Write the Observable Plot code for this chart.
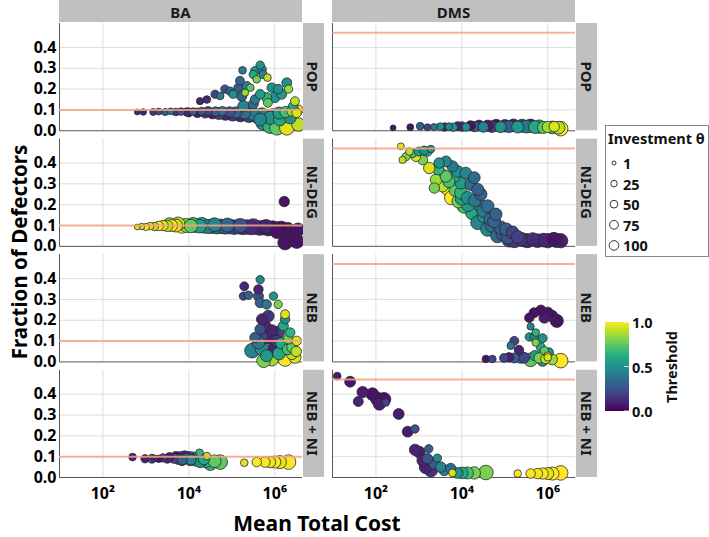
<!DOCTYPE html>
<html><head><meta charset="utf-8">
<script src="https://cdn.jsdelivr.net/npm/d3@7"></script>
<script src="https://cdn.jsdelivr.net/npm/@observablehq/plot@0.6"></script>
<style>
body{margin:0;background:#fff;}
#wrap{position:relative;width:709px;height:537px;overflow:hidden;font-family:"Noto Sans",sans-serif;}
#wrap svg{position:absolute;left:0;top:0;}
</style></head><body><div id="wrap"></div>
<script>
// Networks (columns) and strategies (rows)
const networks = ["BA", "DMS"];
const strategies = ["POP", "NI-DEG", "NEB", "NEB + NI"];
// Reference fraction of defectors per network (orange line)
const refLevels = [0.1, 0.47];
// x tick values are log10(Mean Total Cost)
const xTicks = [2, 4, 6];
const xTickLabels = ["10²", "10⁴", "10⁶"];
const yTicks = [0, 0.1, 0.2, 0.3, 0.4];
const sizeLegend = [1, 25, 50, 75, 100];
const colorLegend = [0, 0.5, 1];

// Each point: [log10(Mean Total Cost), Fraction of Defectors, Threshold, Investment θ]
const BA_POP = [
[2.8,0.09,0.12,5],[2.94,0.09,0.1,8],[3.17,0.09,0.15,10],[3.3,0.092,0.2,10],[3.45,0.09,0.3,12],[3.58,0.093,0.4,10],[3.7,0.09,0.15,15],[3.82,0.092,0.25,15],[3.95,0.09,0.1,20],
[4.0,0.088,0.08,25],[4.1,0.092,0.3,15],[4.2,0.086,0.05,30],[4.3,0.093,0.25,20],[4.38,0.085,0.12,35],[4.45,0.095,0.2,25],[4.55,0.083,0.08,45],[4.62,0.092,0.3,30],[4.7,0.082,0.18,55],[4.78,0.094,0.35,30],[4.85,0.08,0.1,65],[4.95,0.09,0.25,40],[5.02,0.078,0.15,75],[5.1,0.088,0.3,50],[5.2,0.076,0.1,85],[5.3,0.085,0.35,60],[5.4,0.074,0.2,95],[5.5,0.08,0.4,70],[5.6,0.07,0.25,100],[5.7,0.078,0.45,80],[5.8,0.068,0.3,100],[5.95,0.072,0.5,90],
[6.1,0.085,0.55,60],[6.25,0.09,0.7,50],[6.4,0.095,0.85,40],[6.55,0.1,0.95,35],
[4.26,0.142,0.1,12],[4.42,0.15,0.12,15],[4.61,0.175,0.2,18],[4.73,0.167,0.4,15],[4.84,0.2,0.25,20],[4.96,0.19,0.3,20],[5.03,0.175,0.5,18],[5.15,0.207,0.3,25],[5.19,0.24,0.32,25],[5.25,0.29,0.42,15],[5.23,0.167,0.3,40],[5.31,0.183,0.85,12],[5.35,0.215,0.45,25],[5.43,0.207,0.75,15],[5.27,0.118,0.45,50],[5.5,0.128,0.35,35],[5.5,0.27,0.6,20],[5.54,0.287,0.55,25],[5.58,0.247,0.8,15],[5.66,0.315,0.5,20],[5.7,0.295,0.45,25],[5.73,0.27,0.45,20],[5.83,0.255,0.9,15],[5.54,0.15,0.4,30],[5.66,0.175,0.55,30],[5.81,0.16,0.65,35],[5.84,0.134,0.75,25],[5.93,0.207,0.5,30],[6.0,0.16,0.5,40],[6.08,0.2,0.5,30],[6.16,0.175,0.55,35],[6.28,0.23,0.5,35],[6.32,0.2,0.85,20],[6.43,0.118,0.6,30],[6.47,0.142,0.9,25],[6.51,0.086,0.95,30],
[5.66,0.054,0.45,70],[5.73,0.038,0.5,100],[5.89,0.062,0.5,80],[5.89,0.022,0.65,100],[6.05,0.014,0.75,100],[6.12,0.054,0.6,70],[6.28,0.014,0.95,100],[6.36,0.062,0.5,60],[6.55,0.03,0.9,80]
];
const DMS_POP = [
[2.4,0.014,0.05,5],[2.8,0.017,0.05,10],[3.03,0.022,0.3,15],[3.2,0.017,0.2,10],[3.35,0.018,0.4,10],[3.5,0.02,0.5,15],[3.6,0.018,0.1,20],[3.7,0.02,0.45,15],[3.8,0.017,0.55,20],[3.9,0.022,0.1,25],[4.0,0.02,0.2,30],[4.1,0.018,0.5,20],[4.2,0.024,0.05,35],[4.3,0.02,0.3,40],[4.4,0.025,0.1,45],[4.5,0.018,0.45,40],[4.6,0.024,0.08,50],[4.7,0.02,0.2,55],[4.8,0.026,0.05,60],[4.9,0.018,0.5,50],[5.0,0.024,0.1,65],[5.1,0.02,0.3,60],[5.2,0.026,0.08,70],[5.3,0.018,0.55,60],[5.4,0.024,0.15,75],[5.5,0.02,0.4,70],[5.6,0.024,0.1,80],[5.7,0.018,0.6,70],[5.8,0.02,0.5,80],[5.9,0.016,0.75,60],[6.0,0.018,0.85,50],[6.1,0.016,0.7,70],[6.15,0.02,0.95,40],[6.25,0.015,0.9,70],[6.3,0.01,1.0,100]
];
const BA_NIDEG = [
[2.8,0.093,0.95,5],[2.9,0.095,0.9,8],[3.0,0.093,1.0,12],[3.1,0.097,0.95,15],[3.2,0.095,0.9,20],[3.3,0.098,1.0,30],[3.4,0.1,0.95,40],[3.5,0.098,0.9,50],[3.6,0.1,0.98,60],[3.7,0.1,0.95,75],
[3.55,0.107,0.85,70],[3.75,0.108,0.9,85],[4.1,0.106,0.7,85],[4.3,0.105,0.6,90],[4.6,0.104,0.45,85],[4.9,0.102,0.32,90],[5.2,0.1,0.25,90],[5.5,0.098,0.18,95],[5.8,0.095,0.1,90],
[3.84,0.098,1.0,100],[3.95,0.1,0.85,90],[4.05,0.098,0.75,80],[4.15,0.1,0.65,90],[4.25,0.097,0.55,85],[4.35,0.098,0.5,95],[4.45,0.095,0.45,90],[4.55,0.097,0.4,100],[4.65,0.094,0.35,95],[4.75,0.096,0.3,100],[4.85,0.093,0.28,95],[4.95,0.095,0.25,100],[5.05,0.092,0.22,100],[5.15,0.094,0.2,95],[5.25,0.091,0.18,100],[5.35,0.093,0.15,100],[5.45,0.09,0.12,95],[5.55,0.092,0.1,100],[5.65,0.088,0.1,100],[5.75,0.09,0.08,100],[5.85,0.085,0.06,100],[5.95,0.088,0.05,95],[6.05,0.083,0.05,100],[6.15,0.086,0.04,100],[6.3,0.08,0.03,100],
[6.22,0.215,0.05,40],[6.05,0.07,0.05,80],[6.36,0.07,0.05,90],[6.54,0.08,0.05,80],[6.24,0.018,0.05,100],[6.51,0.025,0.05,100]
];
const DMS_NIDEG = [
[2.58,0.48,0.95,10],[2.62,0.415,0.9,12],[2.7,0.43,0.8,20],[2.78,0.455,0.9,15],[2.85,0.447,0.7,25],[2.93,0.43,0.95,30],[3.0,0.455,0.55,25],[3.09,0.415,0.8,35],[3.12,0.46,0.5,25],[3.2,0.455,0.6,30],[3.28,0.467,0.5,15],
[3.47,0.4,0.5,40],[3.63,0.408,0.45,45],[3.78,0.384,0.4,50],[3.9,0.36,0.5,55],[4.09,0.352,0.45,55],[4.29,0.33,0.35,55],[4.21,0.297,0.35,60],[4.37,0.273,0.3,60],[4.44,0.25,0.3,65],[3.82,0.336,0.6,60],[3.98,0.305,0.55,65],[3.45,0.37,0.65,50],
[3.24,0.376,0.95,50],[3.4,0.32,0.85,55],[3.36,0.28,0.8,40],[3.52,0.344,1.0,75],[3.55,0.29,0.9,60],[3.63,0.336,0.75,55],[3.7,0.31,0.7,60],[3.67,0.28,1.0,100],[3.76,0.233,1.0,90],[3.85,0.27,0.75,70],[3.93,0.217,0.8,85],[3.98,0.257,0.65,70],
[4.0,0.23,0.6,80],[4.05,0.193,0.7,90],[4.13,0.233,0.5,70],[4.15,0.2,0.55,85],[4.25,0.162,0.6,95],[4.3,0.22,0.4,70],[4.37,0.114,0.45,90],[4.44,0.193,0.5,75],[4.5,0.17,0.4,75],[4.52,0.146,0.5,85],[4.6,0.193,0.35,70],[4.6,0.082,0.45,90],[4.67,0.13,0.35,75],[4.7,0.1,0.35,85],[4.75,0.12,0.3,75],[4.79,0.154,0.3,65],[4.83,0.05,0.35,85],[4.9,0.09,0.3,80],[4.95,0.06,0.28,85],
[5.03,0.082,0.3,70],[5.07,0.043,0.25,80],[5.1,0.03,0.2,90],[5.18,0.067,0.2,70],[5.22,0.027,0.15,90],[5.3,0.045,0.18,70],[5.37,0.035,0.15,80],[5.45,0.03,0.12,85],[5.53,0.027,0.1,90],[5.65,0.035,0.12,70],[5.76,0.027,0.1,85],[5.9,0.03,0.1,85],[6.0,0.027,0.08,95],[6.14,0.035,0.05,80],[6.2,0.028,0.08,90],[6.3,0.027,0.1,95]
];
const BA_NEB = [
[5.66,0.395,0.45,20],[5.29,0.363,0.1,25],[5.27,0.316,0.2,20],[5.39,0.32,0.3,20],[5.62,0.348,0.1,30],[5.62,0.316,0.25,35],[5.66,0.284,0.3,35],[5.81,0.276,0.4,30],[5.97,0.316,0.5,20],[6.08,0.276,0.8,20],[6.24,0.229,0.95,25],
[5.85,0.22,0.15,55],[5.7,0.205,0.1,45],[5.77,0.173,0.1,60],[5.66,0.157,0.25,40],[5.54,0.117,0.3,40],[5.93,0.149,0.1,65],[6.08,0.141,0.2,70],[6.2,0.173,0.6,35],[6.24,0.205,0.5,30],[6.36,0.141,0.65,30],[6.32,0.11,0.8,35],[6.51,0.101,0.95,30],
[5.7,0.125,0.2,70],[5.85,0.117,0.1,75],[5.62,0.093,0.4,70],[6.05,0.1,0.15,60],[6.15,0.09,0.6,50],[6.3,0.06,0.7,45],[6.4,0.07,0.75,40],
[5.47,0.054,0.45,100],[5.7,0.062,0.5,80],[5.81,0.03,0.55,60],[6.0,0.07,0.1,70],[6.1,0.04,0.6,70],[6.5,0.05,0.9,40],[5.93,0.014,0.85,90],[6.24,0.014,1.0,100],[6.47,0.022,0.95,60],[5.74,0.006,0.8,85],[6.4,0.038,0.9,50]
];
const DMS_NEB = [
[5.57,0.212,0.05,30],[5.68,0.236,0.05,35],[5.84,0.248,0.05,40],[6.0,0.236,0.05,50],[6.1,0.22,0.06,55],[5.92,0.212,0.08,45],[6.21,0.197,0.05,75],
[5.6,0.17,0.45,12],[5.72,0.141,0.65,15],[5.57,0.12,0.5,20],[5.68,0.117,0.45,20],[5.88,0.114,0.5,25],[5.72,0.093,0.8,15],[5.22,0.101,0.2,25],[5.14,0.078,0.4,15],[5.33,0.057,0.1,30],[5.84,0.07,0.6,25],[5.92,0.054,0.75,20],[6.03,0.046,0.5,25],[6.0,0.03,0.95,15],
[4.56,0.014,0.05,15],[4.71,0.014,0.2,15],[4.98,0.019,0.2,25],[5.1,0.022,0.08,30],[5.22,0.019,0.3,35],[5.37,0.022,0.4,60],[5.45,0.02,0.2,45],[5.7,0.03,0.55,40],[5.6,0.01,0.75,85],[5.8,0.019,0.8,40],[5.88,0.006,0.5,50],[5.95,0.015,0.9,35],[6.0,0.022,0.95,15],[6.1,0.012,0.85,45],[6.3,0.006,1.0,100]
];
const BA_NEBNI = [
[2.69,0.098,0.1,15],[2.98,0.09,0.08,20],[3.14,0.09,0.2,25],
[3.2,0.092,0.1,10],[3.3,0.09,0.05,15],[3.4,0.094,0.15,20],[3.5,0.09,0.1,25],[3.55,0.097,0.08,30],[3.65,0.092,0.2,35],[3.7,0.1,0.05,40],[3.75,0.088,0.25,40],[3.8,0.097,0.12,50],[3.84,0.082,0.3,40],[3.85,0.085,0.3,35],[3.9,0.1,0.1,55],[3.95,0.09,0.35,45],[4.0,0.096,0.2,60],[4.03,0.082,0.45,40],[4.05,0.085,0.45,40],[4.1,0.093,0.3,65],[4.15,0.082,0.5,50],[4.2,0.09,0.4,70],[4.26,0.074,0.5,50],[4.3,0.082,0.55,60],[4.35,0.088,0.6,50],[4.25,0.119,0.65,15],[4.42,0.103,0.9,15],[4.4,0.08,0.65,75],[4.5,0.067,0.65,85],[4.6,0.078,0.75,70],[4.73,0.074,0.75,100],
[5.29,0.071,0.95,15],[5.58,0.074,1.0,30],[5.77,0.074,1.0,40],[5.89,0.074,0.98,50],[6.0,0.074,1.0,60],[6.12,0.074,0.95,75],[6.32,0.074,1.0,100]
];
const DMS_NEBNI = [
[1.1,0.487,0.08,15],[1.4,0.46,0.05,45],[1.69,0.41,0.08,50],[1.59,0.365,0.1,35],[1.92,0.4,0.05,70],[2.04,0.376,0.08,85],[2.19,0.376,0.05,80],[2.08,0.352,0.08,60],[2.23,0.36,0.2,15],[2.53,0.305,0.08,45],[2.74,0.22,0.08,45],[2.91,0.233,0.25,20],[2.91,0.133,0.1,50],[3.01,0.122,0.08,55],[3.23,0.138,0.3,20],[3.09,0.082,0.1,55],[3.2,0.09,0.25,40],[3.43,0.093,0.45,20],[3.16,0.05,0.1,75],[3.28,0.035,0.15,80],[3.36,0.067,0.3,50],[3.51,0.05,0.45,40],[3.59,0.035,0.45,45],[3.74,0.043,0.35,40],[3.78,0.022,0.95,15],[3.9,0.022,0.5,45],[4.01,0.022,0.6,55],[4.13,0.022,0.7,60],[4.29,0.022,0.8,65],[4.56,0.024,0.8,100],
[5.3,0.019,1.0,15],[5.6,0.019,1.0,30],[5.76,0.019,0.98,40],[5.88,0.019,1.0,50],[6.0,0.019,0.95,60],[6.11,0.019,1.0,75],[6.3,0.022,1.0,100]
];

const panelData = [
  ["BA", "POP", BA_POP], ["DMS", "POP", DMS_POP],
  ["BA", "NI-DEG", BA_NIDEG], ["DMS", "NI-DEG", DMS_NIDEG],
  ["BA", "NEB", BA_NEB], ["DMS", "NEB", DMS_NEB],
  ["BA", "NEB + NI", BA_NEBNI], ["DMS", "NEB + NI", DMS_NEBNI]
];
const points = panelData.flatMap(([net, strat, arr]) =>
  arr.map(([lc, f, t, inv]) => ({net, strat, lc, f, t, inv})));
const refs = networks.flatMap((net, i) => strategies.map(strat => ({net, strat, y: refLevels[i]})));

// Layout
const W = 709, H = 537, ML = 59, MR = 134, MT = 23, MB = 60;
const PADX = 0.11, PADY = 0.072;
const xDomain = [0.99, 6.645], yDomain = [0, 0.515];
const FONT = "'Noto Sans', sans-serif";

const chart = Plot.plot({
  width: W, height: H,
  marginLeft: ML, marginRight: MR, marginTop: MT, marginBottom: MB,
  style: {fontFamily: FONT, fontSize: "16px", fontWeight: "bold", color: "#000", background: "transparent"},
  x: {domain: xDomain, label: null},
  y: {domain: yDomain, label: null},
  fx: {domain: networks, paddingInner: PADX, paddingOuter: 0, round: false, axis: null, label: null},
  fy: {domain: strategies, paddingInner: PADY, paddingOuter: 0, round: false, axis: null, label: null},
  r: {type: "sqrt", domain: [1, 100], range: [2.2, 7.3]},
  color: {type: "linear", scheme: "viridis", domain: [0, 1]},
  marks: [
    Plot.gridX(xTicks, {stroke: "#dcdcdc", strokeOpacity: 1}),
    Plot.gridY(yTicks.slice(1), {stroke: "#dcdcdc", strokeOpacity: 1}),
    Plot.ruleX([xDomain[0]], {stroke: "#555", strokeWidth: 1}),
    Plot.ruleY([0], {stroke: "#555", strokeWidth: 1}),
    Plot.dot(points, {x: "lc", y: "f", fx: "net", fy: "strat", r: "inv", fill: "t", stroke: "#2a2a2a", strokeWidth: 0.8}),
    Plot.ruleY(refs, {y: "y", fx: "net", fy: "strat", stroke: "#f4a582", strokeWidth: 2, strokeOpacity: 0.85}),
    Plot.axisX(xTicks, {tickFormat: (d) => xTickLabels[xTicks.indexOf(d)], tickSize: 0, tickPadding: 10, fontSize: 16}),
    Plot.axisY(yTicks, {tickFormat: d3.format(".1f"), tickSize: 0, tickPadding: 3, fontSize: 16})
  ]
});
const wrap = document.getElementById("wrap");
wrap.appendChild(chart);

// Overlay: strips, titles, legends
const fxs = d3.scaleBand(networks, [ML, W - MR]).paddingInner(PADX).paddingOuter(0);
const fys = d3.scaleBand(strategies, [MT, H - MB]).paddingInner(PADY).paddingOuter(0);
const ov = d3.select(wrap).append("svg").attr("width", W).attr("height", H)
  .style("font-family", FONT).style("font-weight", "bold");
const STRIP = "#c0c0c0";
networks.forEach(net => {
  const x0 = fxs(net), bw = fxs.bandwidth();
  ov.append("rect").attr("x", x0).attr("y", 0).attr("width", bw).attr("height", 22).attr("fill", STRIP);
  ov.append("text").attr("x", x0 + bw / 2).attr("y", 11.5).attr("text-anchor", "middle")
    .attr("dominant-baseline", "central").attr("font-size", 15).attr("fill", "#1a1a1a").text(net);
  strategies.forEach(s => {
    const y0 = fys(s), bh = fys.bandwidth(), sx = x0 + bw + 1;
    ov.append("rect").attr("x", sx).attr("y", y0).attr("width", 21).attr("height", bh).attr("fill", STRIP);
    ov.append("text").attr("transform", `translate(${sx + 10.5},${y0 + bh / 2}) rotate(90)`)
      .attr("text-anchor", "middle").attr("dominant-baseline", "central")
      .attr("font-size", 15).attr("fill", "#1a1a1a").text(s);
  });
});
ov.append("text").attr("transform", "translate(19,252) rotate(-90)").attr("text-anchor", "middle")
  .attr("dominant-baseline", "central").attr("font-size", 20.5).attr("fill", "#000").text("Fraction of Defectors");
ov.append("text").attr("x", 317).attr("y", 523).attr("text-anchor", "middle")
  .attr("dominant-baseline", "central").attr("font-size", 21).attr("fill", "#000").text("Mean Total Cost");

// Size legend
ov.append("rect").attr("x", 605.5).attr("y", 125.5).attr("width", 103).attr("height", 131)
  .attr("fill", "#fff").attr("stroke", "#8a8a8a");
ov.append("text").attr("x", 608).attr("y", 144).attr("font-size", 14.5).attr("fill", "#111").text("Investment θ");
const legR = d3.scaleSqrt().domain([1, 100]).range([2, 4.8]);
sizeLegend.forEach((v, i) => {
  const cy = 163 + i * 20.6;
  ov.append("circle").attr("cx", 614).attr("cy", cy).attr("r", legR(v))
    .attr("fill", "none").attr("stroke", "#333").attr("stroke-width", 1);
  ov.append("text").attr("x", 623).attr("y", cy).attr("dominant-baseline", "central")
    .attr("font-size", 14.5).attr("fill", "#111").text(v);
});

// Colour bar
const grad = ov.append("defs").append("linearGradient").attr("id", "vir")
  .attr("x1", 0).attr("y1", 1).attr("x2", 0).attr("y2", 0);
d3.range(0, 1.0001, 0.1).forEach(t => grad.append("stop").attr("offset", t).attr("stop-color", d3.interpolateViridis(t)));
const cbTop = 322, cbBot = 411;
const cbY = d3.scaleLinear().domain([0, 1]).range([cbBot, cbTop]);
ov.append("rect").attr("x", 605).attr("y", cbTop).attr("width", 24).attr("height", cbBot - cbTop).attr("fill", "url(#vir)");
colorLegend.forEach(v => {
  ov.append("line").attr("x1", 624).attr("x2", 629).attr("y1", cbY(v)).attr("y2", cbY(v)).attr("stroke", "#fff").attr("stroke-width", 0.8);
  ov.append("text").attr("x", 632).attr("y", cbY(v)).attr("dominant-baseline", "central")
    .attr("font-size", 14.5).attr("fill", "#111").text(d3.format(".1f")(v));
});
ov.append("text").attr("transform", "translate(671,367) rotate(-90)").attr("text-anchor", "middle")
  .attr("dominant-baseline", "central").attr("font-size", 14.5).attr("fill", "#111").text("Threshold");
</script>
</body></html>
